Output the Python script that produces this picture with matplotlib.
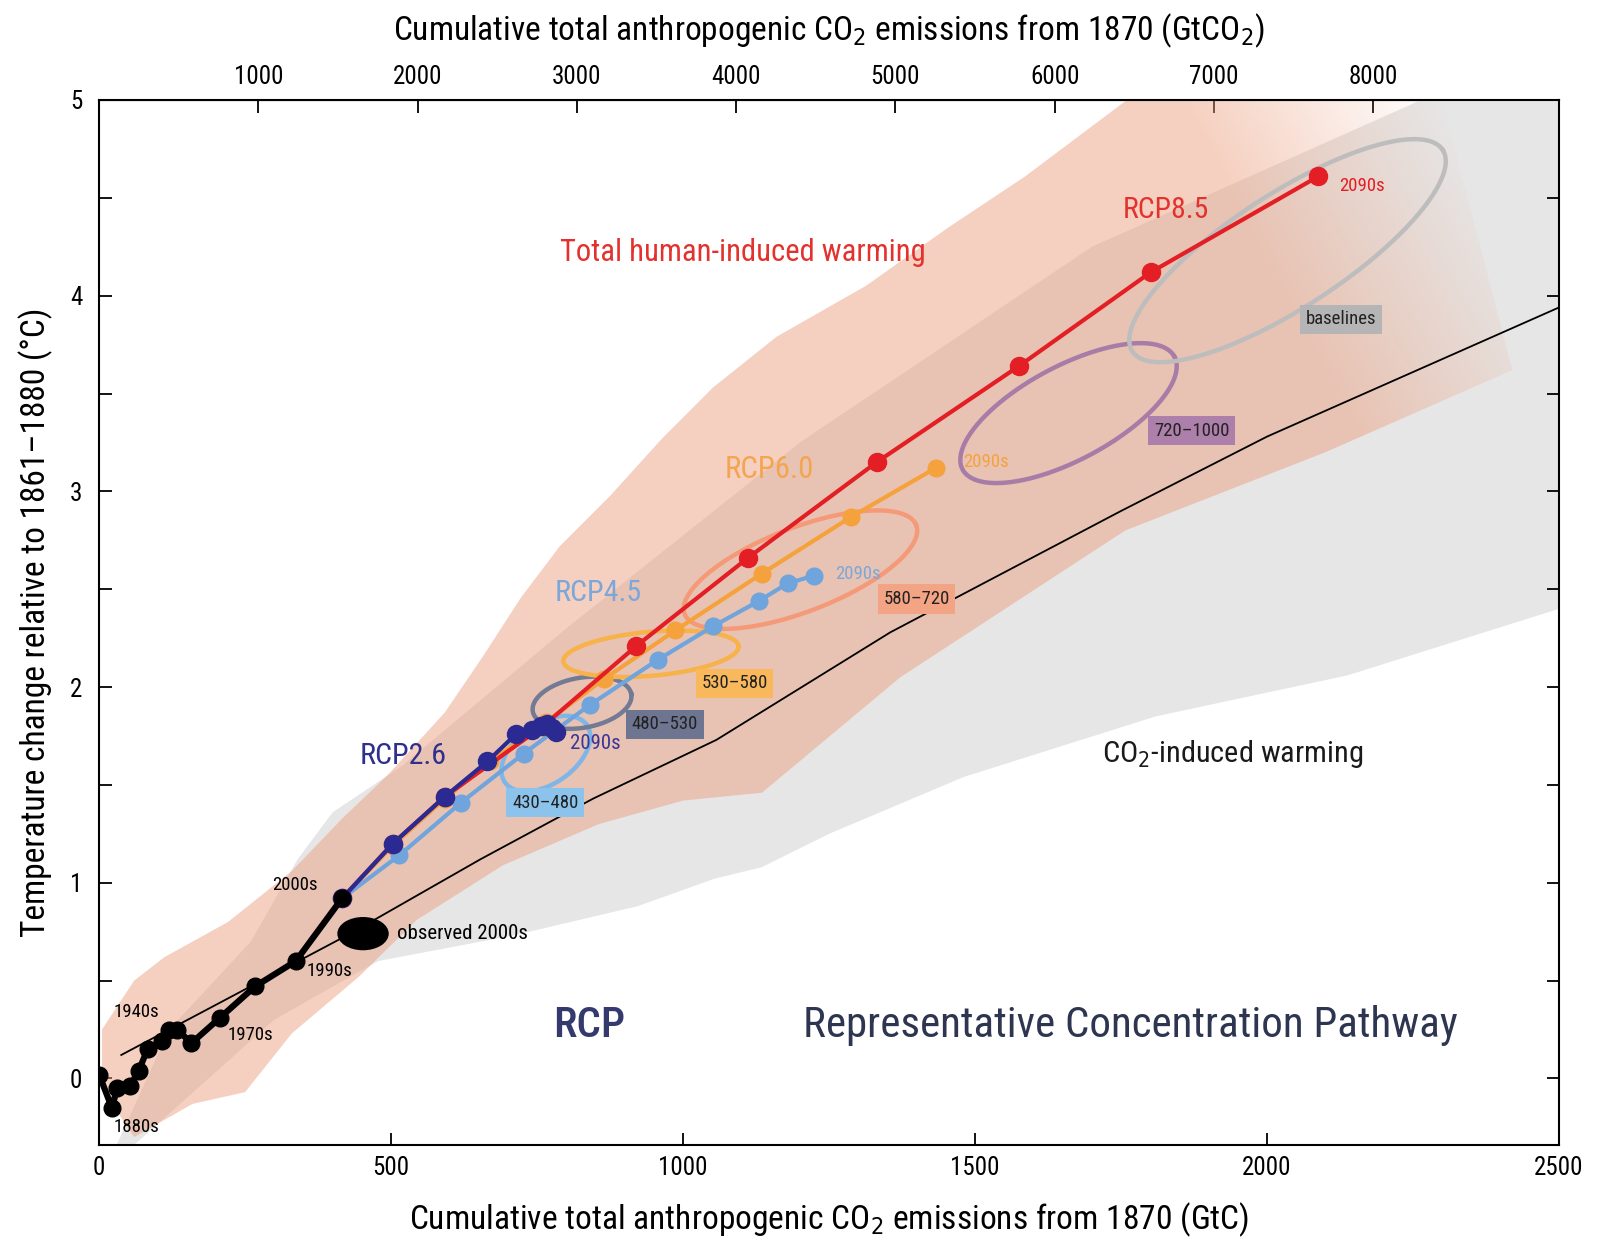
import numpy as np
import matplotlib
matplotlib.use("Agg")
import matplotlib.pyplot as plt
from matplotlib.patches import Polygon, Ellipse

plt.rcParams['font.family'] = ['Noto Sans Condensed', 'Roboto Condensed', 'DejaVu Sans Condensed',
                               'Liberation Sans Narrow', 'Noto Sans', 'DejaVu Sans']
plt.rcParams['font.stretch'] = 'condensed'

# ---- data (cumulative GtC, temperature degC) ----
hist_c = [0, 22, 31, 53, 68, 83, 107, 119, 134, 158, 207, 267, 337, 416]
hist_t = [0.02, -0.15, -0.05, -0.04, 0.04, 0.15, 0.19, 0.25, 0.25, 0.18, 0.31, 0.47, 0.60, 0.92]

rcp26_c = [416, 503, 592, 665, 714, 742, 757, 767, 775, 782]
rcp26_t = [0.92, 1.20, 1.44, 1.62, 1.76, 1.78, 1.80, 1.81, 1.79, 1.77]
rcp45_c = [416, 514, 620, 727, 841, 957, 1051, 1130, 1179, 1225]
rcp45_t = [0.92, 1.14, 1.41, 1.66, 1.91, 2.14, 2.31, 2.44, 2.53, 2.57]
rcp60_c = [416, 503, 592, 670, 765, 864, 987, 1135, 1288, 1433]
rcp60_t = [0.92, 1.19, 1.43, 1.62, 1.82, 2.04, 2.29, 2.58, 2.87, 3.12]
rcp85_c = [416, 503, 592, 760, 920, 1111, 1332, 1575, 1801, 2088]
rcp85_t = [0.92, 1.20, 1.44, 1.80, 2.21, 2.66, 3.15, 3.64, 4.12, 4.61]

co2_c = [38, 430, 653, 846, 1057, 1355, 1750, 2000, 2500]
co2_t = [0.12, 0.74, 1.12, 1.43, 1.73, 2.28, 2.90, 3.28, 3.94]

# total human-induced range (upper edge then lower edge back)
total_c = [5, 60, 112, 221, 330, 417, 494, 592, 658, 723, 789, 876, 964, 1051, 1160,
           1313, 1455, 1586, 1760, 2300, 2420,
           2100, 1757, 1372, 1135, 1000, 856, 692, 544, 445, 330, 250, 160, 60, 5]
total_t = [0.25, 0.50, 0.62, 0.80, 1.06, 1.33, 1.55, 1.87, 2.16, 2.46, 2.72, 2.98, 3.27, 3.53, 3.79,
           4.05, 4.35, 4.61, 5.0, 5.0, 3.62,
           3.20, 2.80, 2.05, 1.46, 1.42, 1.30, 1.09, 0.81, 0.52, 0.23, -0.07, -0.13, -0.30, -0.05]

# CO2-induced range
co2r_c = [30, 120, 260, 340, 400, 520, 800, 1200, 1700, 2264, 2500,
          2500, 2138, 1809, 1480, 1250, 1135, 1053, 922, 708, 478, 300, 150, 60]
co2r_t = [-0.34, 0.25, 0.70, 1.12, 1.36, 1.60, 2.30, 3.25, 4.25, 5.0, 5.0,
          2.40, 2.06, 1.85, 1.54, 1.25, 1.08, 1.02, 0.88, 0.73, 0.60, 0.30, -0.10, -0.34]

cat_labels = ['430–480', '480–530', '530–580', '580–720', '720–1000', 'baselines']
cat_c = [765, 827, 945, 1201, 1660, 2035]
cat_t = [1.66, 1.92, 2.17, 2.60, 3.40, 4.23]
cat_lab_c = [764, 969, 1088, 1400, 1871, 2126]
cat_lab_t = [1.41, 1.81, 2.02, 2.45, 3.31, 3.88]

obs_c, obs_t = 452, 0.74

gtc_ticks = [0, 500, 1000, 1500, 2000, 2500]
gtco2_ticks = [1000, 2000, 3000, 4000, 5000, 6000, 7000, 8000, 9000]
gtco2_labels = ['1000', '2000', '3000', '4000', '5000', '6000', '7000', '8000', '']

# ---- style ----
ring_col = ['#7fb6e6', '#737a94', '#f7b24a', '#f59a78', '#a77ca6', '#bdbdbd']
box_col = ['#8cc3ec', '#6e7591', '#fab85c', '#f2a484', '#ad7fab', '#b5b5b5']
ring_geom = [(50, 30, 35), (50, 25, 10), (88, 22, 5), (124, 42, 21), (120, 47, 28), (185, 57, 33)]

W, H = 1603, 1242
fig = plt.figure(figsize=(W / 100, H / 100), dpi=100)
L, B, Wa, Ha = 0.0618, 0.0781, 0.9108, 0.8414
ax = fig.add_axes([L, B, Wa, Ha])
XMIN, XMAX, YMIN, YMAX = 0, 2500, -0.34, 5.0
SX = W * Wa / (XMAX - XMIN)
SY = H * Ha / (YMAX - YMIN)
rend = fig.canvas.get_renderer()


def fit(t, width_px):
    bb = t.get_window_extent(rend)
    w = max(bb.width, bb.height) if t.get_rotation() else bb.width
    t.set_fontsize(t.get_fontsize() * width_px / w)
    return t


TICK = 18
SMALL = 13.5

# shaded ranges
ax.add_patch(Polygon(np.column_stack([co2r_c, co2r_t]), closed=True,
                     facecolor='#e6e6e6', edgecolor='none', zorder=1))

tot_poly = Polygon(np.column_stack([total_c, total_t]), closed=True,
                   facecolor='none', edgecolor='none', zorder=2)
ax.add_patch(tot_poly)
gx, gy = np.meshgrid(np.linspace(XMIN, XMAX, 500), np.linspace(YMIN, YMAX, 300))
s = gx - 180 * (5 - gy)
fade = np.clip((2300 - s) / (2300 - 1850), 0, 1)
img = np.zeros(gx.shape + (4,))
img[..., 0] = 236 / 255
img[..., 1] = 160 / 255
img[..., 2] = 128 / 255
img[..., 3] = 0.5 * fade
im = ax.imshow(img, extent=[XMIN, XMAX, YMIN, YMAX], origin='lower', aspect='auto',
               interpolation='bilinear', zorder=2)
im.set_clip_path(tot_poly)

# mean CO2-induced line
ax.plot(co2_c, co2_t, color='black', lw=1.3, zorder=3)

# concentration category rings
tt = np.linspace(0, 2 * np.pi, 200)
for i in range(len(cat_labels)):
    a, b, ang = ring_geom[i]
    th = np.deg2rad(ang)
    u, v = a * np.cos(tt), b * np.sin(tt)
    px = u * np.cos(th) - v * np.sin(th)
    py = u * np.sin(th) + v * np.cos(th)
    ax.plot(cat_c[i] + px / SX, cat_t[i] + py / SY, color=ring_col[i], lw=3.2, zorder=4)
    ax.text(cat_lab_c[i], cat_lab_t[i], cat_labels[i], fontsize=SMALL, color='#222222',
            ha='center', va='center', zorder=4.5,
            bbox=dict(boxstyle='square,pad=0.3', facecolor=box_col[i], edgecolor='none'))

# RCP pathways
ax.plot(rcp60_c, rcp60_t, color='#f5a23d', lw=3, marker='o', ms=12, zorder=5)
ax.plot(rcp45_c, rcp45_t, color='#6fa4dc', lw=3, marker='o', ms=12, zorder=6)
ax.plot(rcp85_c, rcp85_t, color='#e31e24', lw=3, marker='o', ms=13, zorder=7)
ax.plot(rcp26_c, rcp26_t, color='#2b2a93', lw=3, marker='o', ms=13, zorder=8)

# historical
ax.plot(hist_c, hist_t, color='black', lw=4.5, marker='o', ms=12, zorder=9)
ax.add_patch(Ellipse((obs_c, obs_t), 88, 0.17, facecolor='black', edgecolor='none', zorder=9))

# annotations
ax.text(374, 0.99, '2000s', fontsize=SMALL, ha='right', va='center', zorder=10)
ax.text(356, 0.55, '1990s', fontsize=SMALL, ha='left', va='center', zorder=10)
ax.text(220, 0.22, '1970s', fontsize=SMALL, ha='left', va='center', zorder=10)
ax.text(24, 0.34, '1940s', fontsize=SMALL, ha='left', va='center', zorder=10)
ax.text(24, -0.25, '1880s', fontsize=SMALL, ha='left', va='center', zorder=10)
fit(ax.text(510, 0.74, 'observed 2000s', fontsize=12, ha='left', va='center', zorder=10), 130)

ax.text(2124, 4.56, '2090s', fontsize=SMALL, color='#e31e24', ha='left', va='center', zorder=10)
ax.text(1260, 2.58, '2090s', fontsize=SMALL, color='#7da7d9', ha='left', va='center', zorder=10)
ax.text(806, 1.71, '2090s', fontsize=SMALL + 1.5, color='#3a3596', ha='left', va='center', zorder=10)
ax.text(1480, 3.15, '2090s', fontsize=SMALL, color='#f5a23d', ha='left', va='center', zorder=3.5)

fit(ax.text(790, 4.22, 'Total human-induced warming', fontsize=20, color='#e3322d',
            ha='left', va='center', zorder=10), 365)
fit(ax.text(1753, 4.44, 'RCP8.5', fontsize=21, color='#e3322d', ha='left', va='center', zorder=10), 86)
fit(ax.text(1071, 3.11, 'RCP6.0', fontsize=21, color='#f4a54f', ha='left', va='center', zorder=10), 89)
fit(ax.text(780, 2.48, 'RCP4.5', fontsize=21, color='#7da7d9', ha='left', va='center', zorder=10), 87)
fit(ax.text(447, 1.65, 'RCP2.6', fontsize=21, color='#2f2f8c', ha='left', va='center', zorder=10), 87)
fit(ax.text(1717, 1.66, 'CO$_2$-induced warming', fontsize=18, color='#1a1a1a',
            ha='left', va='center', zorder=10), 262)
fit(ax.text(777, 0.27, 'RCP', fontsize=32, color='#353a6e', ha='left', va='center',
            fontweight='medium', zorder=10), 72)
fit(ax.text(1205, 0.27, 'Representative Concentration Pathway', fontsize=30, color='#2e3550',
            ha='left', va='center', zorder=10), 656)

# axes
ax.set_xlim(XMIN, XMAX)
ax.set_ylim(YMIN, YMAX)
ax.set_xticks(gtc_ticks)
ax.set_yticks(np.arange(0, 5.01, 0.5))
ax.set_yticklabels([str(int(v)) if v == int(v) else '' for v in np.arange(0, 5.01, 0.5)])
ax.tick_params(direction='in', length=9, width=1.3, labelsize=TICK, right=True, pad=8)
ax.tick_params(axis='y', pad=12)
for sp in ax.spines.values():
    sp.set_linewidth(1.5)
xl = ax.set_xlabel('Cumulative total anthropogenic CO$_2$ emissions from 1870 (GtC)', fontsize=21, labelpad=15)
fit(xl, 838)
yl = ax.set_ylabel('Temperature change relative to 1861–1880 (°C)', fontsize=21, labelpad=12)
fit(yl, 629)

sec = ax.secondary_xaxis('top', functions=(lambda c: c * 44 / 12, lambda c: c * 12 / 44))
sec.set_xticks(gtco2_ticks)
sec.set_xticklabels(gtco2_labels)
sec.tick_params(direction='in', length=9, width=1.3, labelsize=TICK, pad=8)
tl = sec.set_xlabel('Cumulative total anthropogenic CO$_2$ emissions from 1870 (GtCO$_2$)', fontsize=21, labelpad=18)
fit(tl, 872)

fig.savefig('out.png', dpi=100)
